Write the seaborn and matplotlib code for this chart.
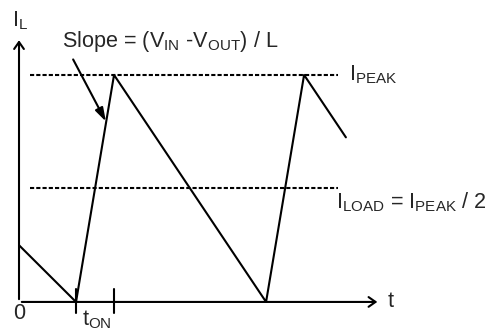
import matplotlib
matplotlib.use("Agg")
import matplotlib.pyplot as plt
import seaborn as sns

# Inductor current waveform (I_PEAK = 1, time in arbitrary units)
t_wave = [0, 1.5, 2.5, 6.5, 7.5, 8.6]
i_wave = [0.25, 0, 1.0, 0, 1.0, 0.725]

# reference levels
i_peak = 1.0
i_load = 0.5
level_t = [0.3, 8.4]

# on-time markers
t_on = [1.5, 2.5]

sns.set_style("white")
plt.rcParams['font.family'] = ['Liberation Sans', 'DejaVu Sans']
plt.rcParams['mathtext.fontset'] = 'custom'
plt.rcParams['mathtext.rm'] = 'Liberation Sans'

fig = plt.figure(figsize=(4.93, 3.31), dpi=100)
ax = fig.add_axes([0, 0, 1, 1])
ax.set_xlim(-0.5, 12.47)
ax.set_ylim(-0.128, 1.33)
ax.axis('off')

# axes with open arrow heads
ax.annotate('', xy=(0, 1.165), xytext=(0, 0),
            arrowprops=dict(arrowstyle='->,head_length=0.5,head_width=0.35', color='black', lw=1.5))
ax.annotate('', xy=(9.5, 0), xytext=(0, 0),
            arrowprops=dict(arrowstyle='->,head_length=0.5,head_width=0.35', color='black', lw=1.5))

# dotted levels
for lvl in [i_peak, i_load]:
    sns.lineplot(x=level_t, y=[lvl, lvl], color='black', lw=1.5, linestyle=(0, (2, 1)), ax=ax)

# waveform
sns.lineplot(x=t_wave, y=i_wave, sort=False, color='black', lw=1.5, ax=ax)

# t_on tick marks
for tt in t_on:
    ax.plot([tt, tt], [0.057, -0.048], color='black', lw=1.5)

fs = 15.6
ax.text(-0.18, 1.24, r'$\mathregular{I_L}$', fontsize=fs, ha='left', va='center')
ax.text(0, -0.05, '0', fontsize=fs, ha='center', va='center')
ax.text(9.71, 0, 't', fontsize=fs, ha='left', va='center')
ax.text(1.66, -0.08, r'$\mathregular{t_{ON}}$', fontsize=fs, ha='left', va='center')
ax.text(8.68, 1.0, r'$\mathregular{I_{PEAK}}$', fontsize=fs, ha='left', va='center')
ax.text(8.35, 0.44, r'$\mathregular{I_{LOAD}}$ = $\mathregular{I_{PEAK}}$ / 2', fontsize=fs, ha='left', va='center')
ax.text(1.13, 1.145, r'Slope = (V$\mathregular{_{IN}}$ -V$\mathregular{_{OUT}}$) / L', fontsize=fs, ha='left', va='center')

# slope arrow
ax.annotate('', xy=(2.32, 0.784), xytext=(1.39, 1.079),
            arrowprops=dict(arrowstyle='-|>,head_length=0.8,head_width=0.25', color='black', lw=1.5))

fig.savefig('out.png', dpi=100)
